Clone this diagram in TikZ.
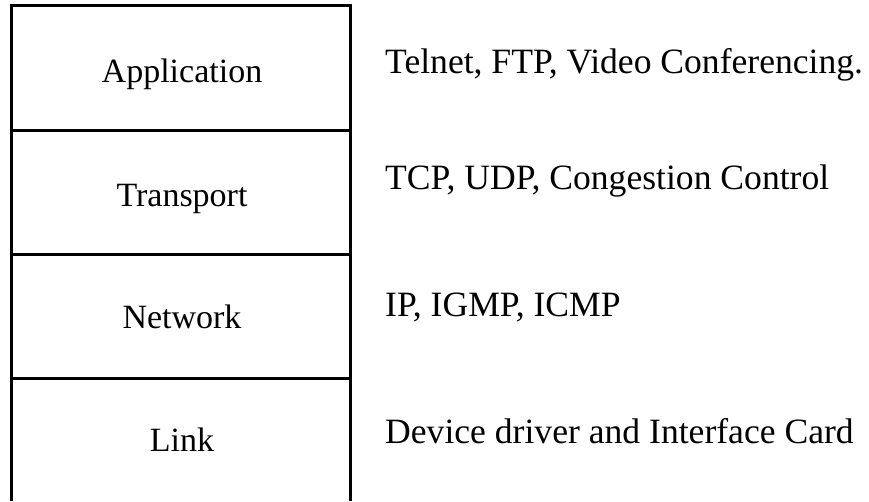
\documentclass[tikz,border=0pt]{standalone}
\usepackage{fontspec}
\setmainfont{Liberation Serif}
\begin{document}
\begin{tikzpicture}[x=1pt,y=-1pt,
  layer/.style={anchor=base,font=\fontsize{34}{40}\selectfont,inner sep=0pt},
  proto/.style={anchor=base west,font=\fontsize{35.6}{42}\selectfont,inner sep=0pt},
  rule/.style={line width=3pt,black}]
\useasboundingbox (0,0) rectangle (869,501);
% open-bottomed stack outline
\draw[rule] (11,501) -- (11,5) -- (350,5) -- (350,501);
% layer separators
\foreach \y in {130,254,378} \draw[rule] (11,\y) -- (350,\y);
% layer names
\node[layer] (app)  at (182,82)  {Application};
\node[layer] (trn)  at (182,206) {Transport};
\node[layer] (net)  at (182,328) {Network};
\node[layer] (lnk)  at (182,451) {Link};
% protocols of each layer
\node[proto] (papp) at (385,73)  {Telnet, FTP, Video Conferencing.};
\node[proto] (ptrn) at (385,189) {TCP, UDP, Congestion Control};
\node[proto] (pnet) at (385,316) {IP, IGMP, ICMP};
\node[proto] (plnk) at (385,443) {Device driver and Interface Card};
\end{tikzpicture}
\end{document}
